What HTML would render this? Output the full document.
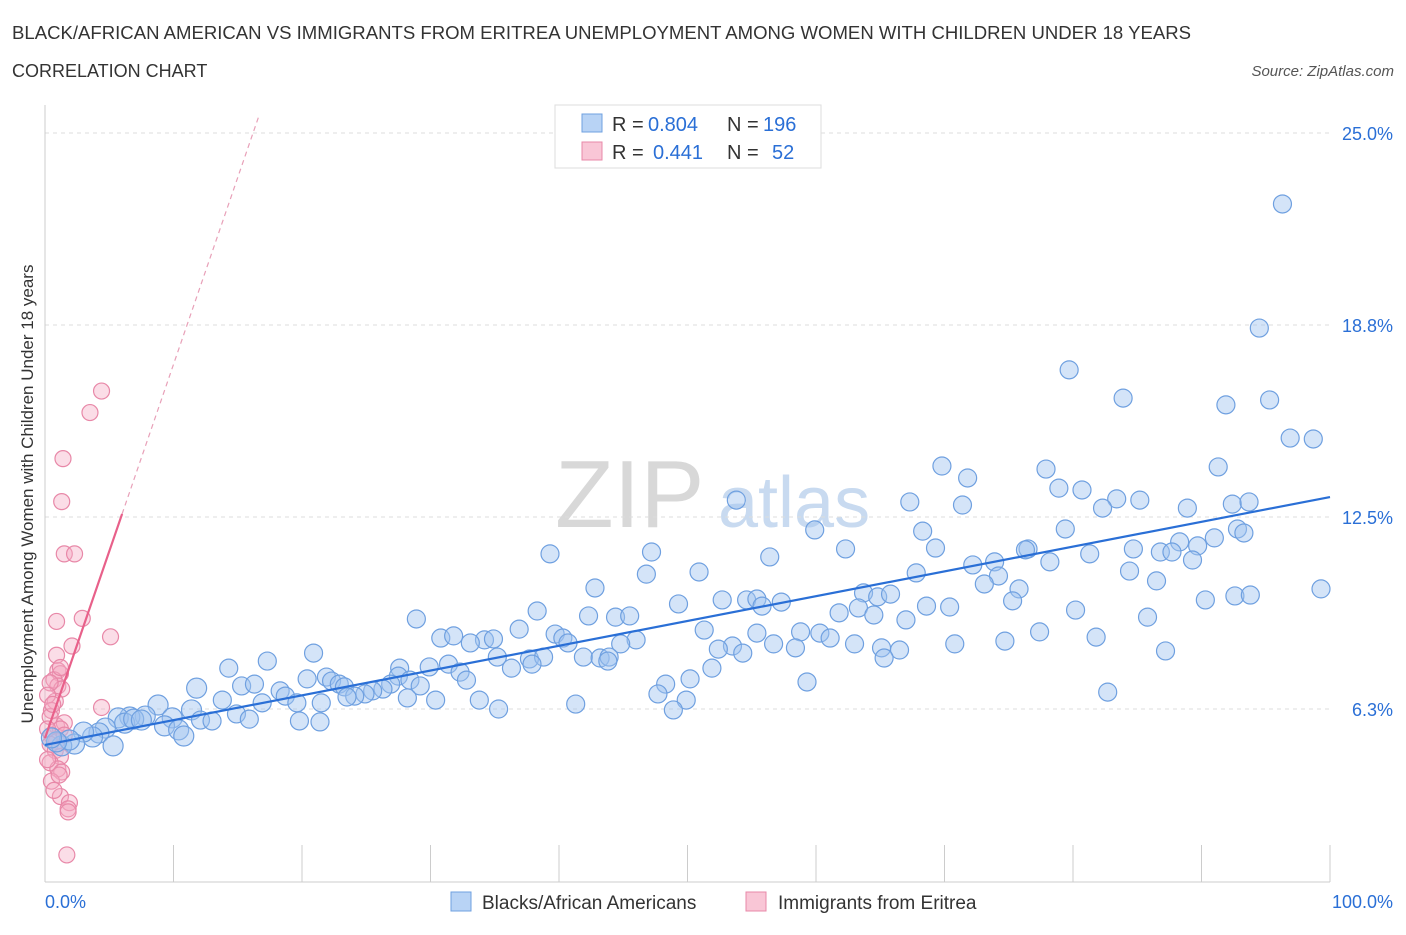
<!DOCTYPE html>
<html><head><meta charset="utf-8"><style>
body{margin:0;background:#fff;font-family:"Liberation Sans",sans-serif;}
svg text{font-family:"Liberation Sans",sans-serif;}
</style></head><body>
<svg id="chart" width="1406" height="930" xmlns="http://www.w3.org/2000/svg">
<text x="12" y="39" font-size="18.5" fill="#333" textLength="1179" lengthAdjust="spacingAndGlyphs">BLACK/AFRICAN AMERICAN VS IMMIGRANTS FROM ERITREA UNEMPLOYMENT AMONG WOMEN WITH CHILDREN UNDER 18 YEARS</text>
<text x="12" y="77" font-size="18" fill="#333">CORRELATION CHART</text>
<text x="1394" y="76" font-size="15" fill="#555" font-style="italic" text-anchor="end">Source: ZipAtlas.com</text>
<g>
<text x="555" y="527" font-size="96" fill="#d8d8d8" font-family="Liberation Serif,serif">ZIP</text>
<text x="718" y="527" font-size="72" fill="#c8daf0">atlas</text>
</g>
<g id="grid"></g>
<g id="axes"></g>
<g id="pinkPts"></g>
<g id="bluePts"></g>
<g id="trends"></g>
<text transform="translate(33,494) rotate(-90)" font-size="17" fill="#333" text-anchor="middle">Unemployment Among Women with Children Under 18 years</text>
<g>
<rect x="555" y="105" width="266" height="63" fill="#fff" stroke="#ddd"/>
<rect x="582" y="114" width="20" height="18" fill="#b8d3f5" stroke="#6fa0e0"/>
<rect x="582" y="142" width="20" height="18" fill="#f9c6d6" stroke="#e888a8"/>
<text x="612" y="131" font-size="20" fill="#333">R =</text>
<text x="648" y="131" font-size="20" fill="#2a6fd6">0.804</text>
<text x="727" y="131" font-size="20" fill="#333">N =</text>
<text x="763" y="131" font-size="20" fill="#2a6fd6">196</text>
<text x="612" y="159" font-size="20" fill="#333">R =</text>
<text x="653" y="159" font-size="20" fill="#2a6fd6">0.441</text>
<text x="727" y="159" font-size="20" fill="#333">N =</text>
<text x="772" y="159" font-size="20" fill="#2a6fd6">52</text>
</g>
<g>
<rect x="451" y="892" width="20" height="19" fill="#b8d3f5" stroke="#6fa0e0"/>
<text x="482" y="909" font-size="19" fill="#333">Blacks/African Americans</text>
<rect x="746" y="892" width="20" height="19" fill="#f9c6d6" stroke="#e888a8"/>
<text x="778" y="909" font-size="19" fill="#333">Immigrants from Eritrea</text>
</g>
</svg>
<script>
const yTicks=[6.25,12.5,18.75,25];
const yTickLabels=["6.3%","12.5%","18.8%","25.0%"];
const xTickLabels=["0.0%","100.0%"];
const bluePoints=[[96.3,22.69],[94.5,18.65],[79.7,17.29],[83.9,16.37],[91.9,16.15],[95.3,16.31],[96.9,15.07],[98.7,15.04],[69.8,14.16],[77.9,14.06],[71.8,13.77],[91.3,14.13],[78.9,13.44],[80.7,13.38],[67.3,12.99],[71.4,12.89],[83.4,13.09],[85.2,13.05],[82.3,12.79],[88.9,12.79],[92.4,12.92],[93.7,12.99],[53.8,13.05],[68.3,12.04],[79.4,12.11],[92.8,12.11],[59.9,12.08],[93.3,11.98],[91.0,11.82],[88.3,11.69],[89.7,11.56],[86.8,11.36],[76.5,11.46],[76.3,11.43],[73.9,11.04],[78.2,11.04],[81.3,11.30],[84.7,11.46],[87.7,11.36],[89.3,11.10],[72.2,10.94],[39.3,11.30],[47.2,11.36],[56.4,11.20],[62.3,11.46],[69.3,11.49],[67.8,10.68],[46.8,10.64],[50.9,10.71],[84.4,10.74],[74.2,10.58],[73.1,10.32],[75.8,10.16],[86.5,10.42],[42.8,10.19],[63.7,10.03],[64.8,9.90],[65.8,9.99],[75.3,9.77],[90.3,9.80],[92.6,9.93],[93.8,9.96],[99.3,10.16],[52.7,9.80],[54.6,9.80],[55.4,9.83],[57.3,9.73],[55.8,9.60],[49.3,9.67],[63.3,9.54],[68.6,9.60],[70.4,9.57],[38.3,9.44],[42.3,9.28],[44.4,9.24],[45.5,9.28],[28.9,9.18],[61.8,9.38],[64.5,9.31],[67.0,9.15],[80.2,9.47],[85.8,9.24],[36.9,8.85],[51.3,8.82],[55.4,8.72],[58.8,8.76],[60.3,8.72],[61.1,8.56],[30.8,8.56],[31.8,8.63],[34.2,8.50],[34.9,8.53],[33.1,8.40],[39.7,8.69],[40.3,8.56],[40.7,8.40],[46.0,8.50],[44.8,8.37],[53.5,8.30],[56.7,8.37],[58.4,8.24],[63.0,8.37],[65.1,8.24],[70.8,8.37],[74.7,8.46],[77.4,8.76],[81.8,8.59],[20.9,8.07],[14.3,7.58],[17.3,7.81],[35.2,7.94],[37.7,7.88],[38.8,7.94],[41.9,7.94],[43.2,7.91],[43.9,7.94],[43.8,7.81],[54.3,8.07],[52.4,8.20],[66.5,8.17],[65.3,7.91],[87.2,8.14],[31.4,7.71],[29.9,7.62],[27.6,7.58],[32.3,7.45],[32.8,7.19],[36.3,7.58],[37.9,7.71],[20.4,7.23],[21.9,7.29],[22.3,7.16],[22.9,7.06],[23.3,6.97],[27.5,7.32],[26.9,7.06],[26.3,6.90],[25.5,6.84],[24.9,6.74],[24.1,6.67],[23.5,6.64],[28.4,7.19],[29.2,7.00],[50.2,7.23],[51.9,7.58],[48.3,7.06],[47.7,6.74],[49.9,6.54],[48.9,6.22],[59.3,7.13],[82.7,6.80],[11.8,6.93],[15.3,7.00],[16.3,7.06],[18.3,6.84],[18.7,6.67],[19.6,6.45],[21.5,6.45],[16.9,6.45],[11.4,6.22],[13.8,6.54],[12.1,5.89],[13.0,5.86],[14.9,6.09],[15.9,5.92],[19.8,5.86],[21.4,5.83],[28.2,6.61],[30.4,6.54],[33.8,6.54],[35.3,6.25],[41.3,6.41],[8.8,6.38],[7.8,6.02],[6.6,5.99],[5.7,5.96],[6.2,5.79],[6.9,5.92],[7.5,5.89],[9.9,5.96],[9.3,5.70],[10.4,5.57],[10.8,5.37],[4.7,5.63],[4.2,5.47],[3.7,5.34],[3.0,5.50],[2.3,5.11],[1.3,5.05],[1.9,5.24],[0.9,5.18],[5.3,5.05],[0.5,5.31]];
const pinkPoints=[[4.4,16.6],[3.5,15.9],[1.4,14.4],[1.3,13.0],[1.5,11.3],[2.3,11.3],[0.9,9.1],[2.9,9.2],[5.1,8.6],[2.1,8.3],[1.0,7.5],[1.2,7.4],[0.7,7.2],[1.0,7.0],[1.3,6.9],[0.4,7.1],[0.8,6.5],[4.4,6.3],[0.5,6.2],[0.4,6.0],[0.9,5.7],[1.5,5.8],[1.2,5.6],[0.5,5.4],[0.9,5.2],[0.4,5.1],[0.8,4.9],[1.2,4.7],[0.4,4.5],[1.0,4.3],[1.3,4.2],[0.5,3.9],[1.1,4.1],[1.2,3.4],[1.9,3.2],[1.8,3.0],[1.8,2.9],[1.7,1.5],[0.2,6.7],[0.2,5.6],[0.6,6.4],[1.5,5.4],[0.9,8.0],[1.2,7.6],[0.2,4.6],[0.7,3.6]];
const blueTrend=[[0,5.08],[100,13.15]];
const pinkTrendSolid=[[0,5.3],[6,12.6]];
const pinkTrendDashed=[[6,12.6],[16.6,25.5]];

const NS="http://www.w3.org/2000/svg";
const X=v=>45+v*12.85;
const Y=v=>901-v*30.72;
function mk(tag,attrs,parent){const e=document.createElementNS(NS,tag);for(const k in attrs)e.setAttribute(k,attrs[k]);parent.appendChild(e);return e;}
const grid=document.getElementById('grid'),axes=document.getElementById('axes');
yTicks.forEach((t,i)=>{
  const l=mk('line',{x1:45,x2:1330,y1:Y(t),y2:Y(t),stroke:'#ddd','stroke-dasharray':'4,4'},grid);
  
  
  const tx=mk('text',{x:1393,y:Y(t)+7,'font-size':18,fill:'#2a6fd6','text-anchor':'end'},axes);
  tx.textContent=yTickLabels[i];
  
  
});
const xa=mk('line',{x1:45,x2:1330,y1:882,y2:882,stroke:'#ccc'},axes);


const ya=mk('line',{x1:45,x2:45,y1:105,y2:882,stroke:'#ccc'},axes);


for(let i=0;i<=10;i++){
  const t=mk('line',{x1:X(i*10),x2:X(i*10),y1:845,y2:882,stroke:'#ccc'},axes);
  
  
}
[[0,'start',45],[100,'end',1393]].forEach((d,i)=>{
  const t=mk('text',{x:d[2],y:908,'font-size':18,fill:'#2a6fd6','text-anchor':d[1]},axes);
  t.textContent=xTickLabels[i];
  
  
});
const pg=document.getElementById('pinkPts');
pinkPoints.forEach(p=>{
  const c=mk('circle',{cx:X(p[0]),cy:Y(p[1]),r:8,fill:'rgba(246,170,196,0.4)',stroke:'#e888a8','stroke-width':1.2},pg);
  
  
});
const bg=document.getElementById('bluePts');
bluePoints.forEach(p=>{
  const c=mk('circle',{cx:X(p[0]),cy:Y(p[1]),r:p[0]<12?10:9,fill:'rgba(160,196,240,0.45)',stroke:'#6fa0e0','stroke-width':1.2},bg);
  
  
});
const tg=document.getElementById('trends');
const bt=mk('line',{x1:X(blueTrend[0][0]),y1:Y(blueTrend[0][1]),x2:X(blueTrend[1][0]),y2:Y(blueTrend[1][1]),stroke:'#2a6fd6','stroke-width':2.2},tg);


const ps=mk('line',{x1:X(pinkTrendSolid[0][0]),y1:Y(pinkTrendSolid[0][1]),x2:X(pinkTrendSolid[1][0]),y2:Y(pinkTrendSolid[1][1]),stroke:'#e8608a','stroke-width':2.2},tg);


const pd=mk('line',{x1:X(pinkTrendDashed[0][0]),y1:Y(pinkTrendDashed[0][1]),x2:X(pinkTrendDashed[1][0]),y2:Y(pinkTrendDashed[1][1]),stroke:'#e8a0b8','stroke-width':1.2,'stroke-dasharray':'5,4'},tg);


</script>
</body></html>
